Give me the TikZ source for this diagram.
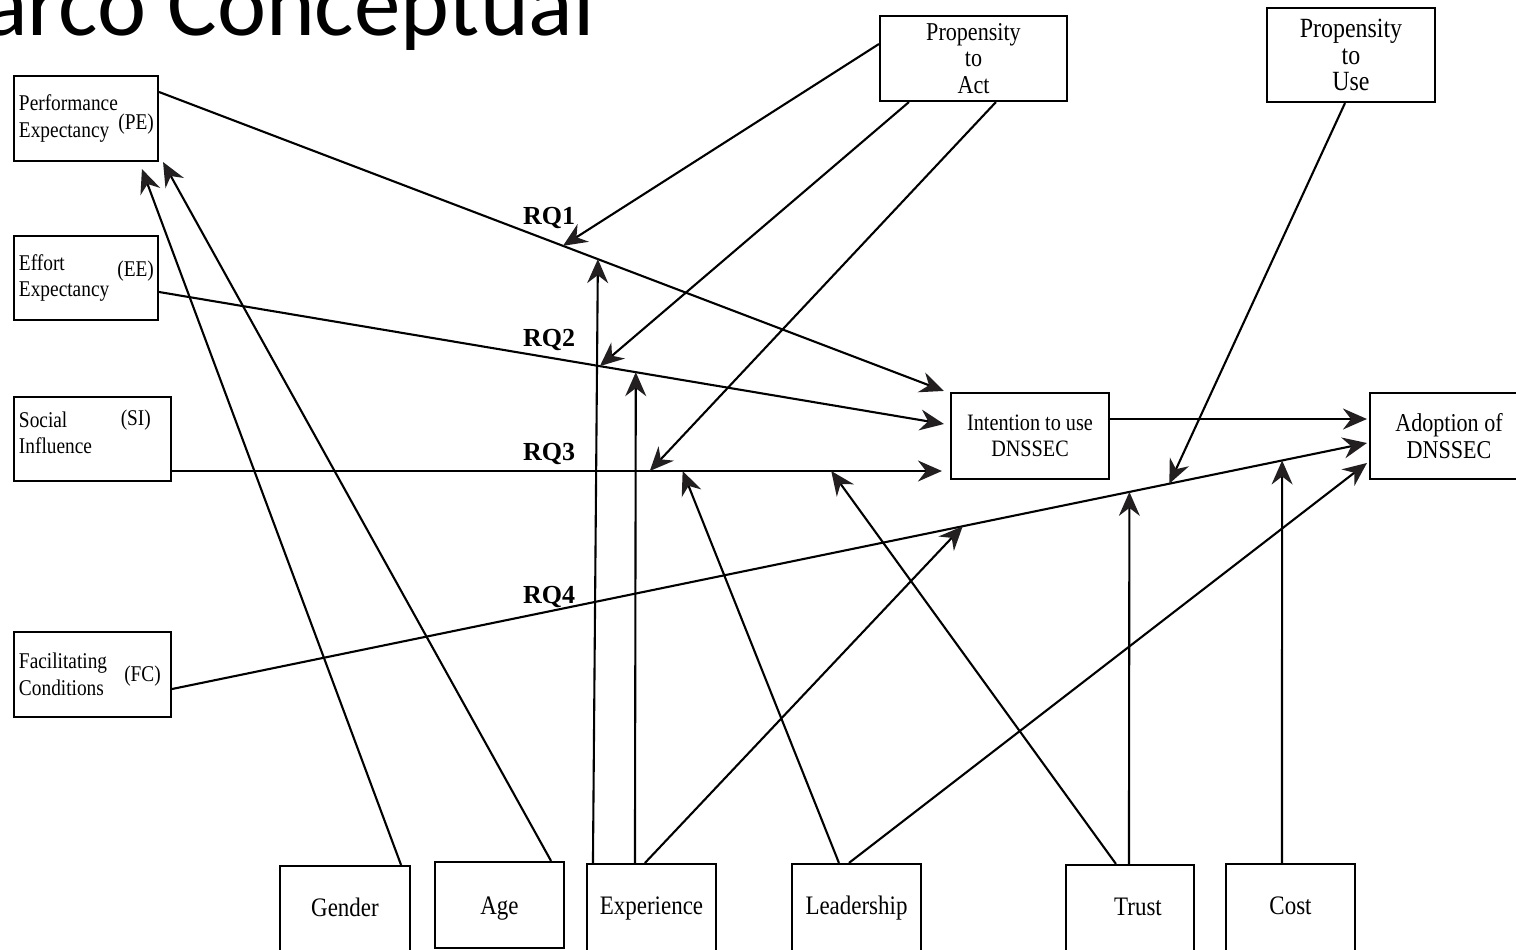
\documentclass[tikz,border=0pt]{standalone}
\usepackage{fontspec}
\setmainfont{Liberation Serif}
\newfontfamily\titlefont{Carlito}
\newfontfamily\boxfont[FakeStretch=0.86]{Liberation Serif}
\usetikzlibrary{calc,arrows.meta,positioning}
\definecolor{tipdark}{HTML}{231F20}
\def\fs#1{\fontsize{#1}{26.5}\selectfont}

\tikzset{
	box/.style={draw=black, line width=2.1pt, inner sep=0pt, align=center, font=\boxfont\fs{23.5}},
	sidebox/.style={box, align=left, inner xsep=5pt, font=\boxfont\fs{22.5}},
	lowbox/.style={box, minimum width=129pt, minimum height=88pt, text height=17pt, text depth=5pt, font=\boxfont\fs{26.7}},
	tag/.style={inner sep=0pt, anchor=east, font=\boxfont\fs{22.5}},
	rq/.style={inner sep=0pt, font=\bfseries\fs{26}},
	arr/.style={line width=2.1pt, -{Stealth[length=24pt, width=21pt, inset=8pt, color=tipdark]}}
}

\begin{document}
\begin{tikzpicture}[x=1pt, y=-1pt]
		%%%%% START %%%%%
		\useasboundingbox (0,0) rectangle (1516,950);
		\clip (0,0) rectangle (1516,950);
		
		\node[anchor=base west, inner sep=0pt, font=\titlefont\fontsize{93}{93}\selectfont] (title) at (-17,36) {arco Conceptual};
		
		% constructs on the left
		\node[sidebox, text width=134pt, minimum height=85pt] (pe) at (86,118.5) {Performance\\Expectancy};
		\node[sidebox, text width=134pt, minimum height=84pt] (ee) at (86,278) {Effort\\Expectancy};
		\node[sidebox, text width=147pt, minimum height=84pt] (si) at (92.5,439) {Social\\Influence\\[-14pt]\mbox{}};
		\node[sidebox, text width=147pt, minimum height=85pt] (fc) at (92.5,674.5) {Facilitating\\Conditions};
		\node[tag] (pe-tag) at ($(pe.east)+(-5,6)$) {(PE)};
		\node[tag] (ee-tag) at ($(ee.east)+(-5,-7)$) {(EE)};
		\node[tag] (si-tag) at ($(si.east)+(-21,-19)$) {(SI)};
		\node[tag] (fc-tag) at ($(fc.east)+(-11,1.5)$) {(FC)};
		
		% propensities
		\node[box, minimum width=187pt, minimum height=85pt, font=\boxfont\fs{25.7}] (act) at (973.5,58.5) {Propensity\\to\\Act};
		\node[box, minimum width=168pt, minimum height=94pt, font=\boxfont\fs{27.8}] (use) at (1351,55) {Propensity\\to\\Use};
		
		% outcomes
		\node[box, minimum width=158pt, minimum height=86pt] (int) at (1030,436) {Intention to use\\DNSSEC};
		\node[box, minimum width=158pt, minimum height=86pt, font=\boxfont\fs{25.7}] (adopt) at (1449,436) {Adoption of\\DNSSEC};
		
		% moderators at the bottom
		\node[lowbox, minimum width=130pt] (gender) at (345,910) {Gender};
		\node[lowbox, minimum height=86pt, text height=23pt] (age) at (499.5,905) {Age};
		\node[lowbox] (exp) at (651.5,908) {Experience};
		\node[lowbox] (lead) at (856.5,908) {Leadership};
		\node[lowbox, minimum width=128pt] (trust) at (1130,909) {\hspace{16pt}Trust};
		\node[lowbox] (cost) at (1290.5,908) {Cost};
		
		% research questions
		\node[rq] (rq1-lab) at (549,218) {RQ1};
		\node[rq] (rq2-lab) at (549,340) {RQ2};
		\node[rq] (rq3-lab) at (549,454) {RQ3};
		\node[rq] (rq4-lab) at (549,597) {RQ4};
		
		% main paths
		\draw[arr] ($(pe.east)+(0,-26.5)$) -- coordinate[pos=0.5146] (rq1a) coordinate[pos=0.5591] (rq1b) ($(int.north west)+(-6,-1)$);
		\draw[arr] ($(ee.east)+(0,14)$) -- coordinate[pos=0.5616] (rq2a) coordinate[pos=0.6074] (rq2b) ($(int.west)+(-6,-12)$);
		\draw[arr] ($(si.east)+(0,32)$) -- coordinate[pos=0.6205] (rq3a) coordinate[pos=0.6632] (rq3b) coordinate[pos=0.8562] (rq3c) ($(int.west)+(-8,35)$);
		\draw[arr] ($(fc.east)+(0,14.5)$) -- coordinate[pos=0.6617] (rq4a) coordinate[pos=0.8012] (rq4b) coordinate[pos=0.8346] (rq4c) coordinate[pos=0.929] (rq4d) ($(adopt.west)+(-2,7)$);
		\draw[arr] ($(int.east)+(0,-17)$) -- ($(adopt.west)+(-2,-17)$);
		
		% propensity to act / use
		\draw[arr] ($(act.west)+(0,-14.5)$) -- (rq1a);
		\draw[arr] ($(act.south west)+(30,0)$) -- (rq2a);
		\draw[arr] ($(act.south west)+(117,0)$) -- (rq3a);
		\draw[arr] ($(use.south)+(-6,0)$) -- (rq4c);
		
		% moderators
		\draw[arr] ($(gender.north east)+(-10,0)$) -- ($(pe.south west)+(129,7)$);
		\draw[arr] ($(age.north east)+(-14,0)$) -- ($(pe.south east)+(4,0)$);
		\draw[arr] ($(exp.north west)+(7,0)$) -- (rq1b);
		\draw[arr] ($(exp.north west)+(49,0)$) -- (rq2b);
		\draw[arr] ($(exp.north west)+(59,0)$) -- (rq4a);
		\draw[arr] ($(lead.north west)+(48,0)$) -- (rq3b);
		\draw[arr] ($(lead.north west)+(58,0)$) -- ($(adopt.west)+(-2,27)$);
		\draw[arr] ($(trust.north west)+(51,0)$) -- (rq3c);
		\draw[arr] ($(trust.north west)+(64,0)$) -- (rq4b);
		\draw[arr] ($(cost.north west)+(57,0)$) -- (rq4d);
		
		%%%%% END %%%%%
\end{tikzpicture}
\end{document}
